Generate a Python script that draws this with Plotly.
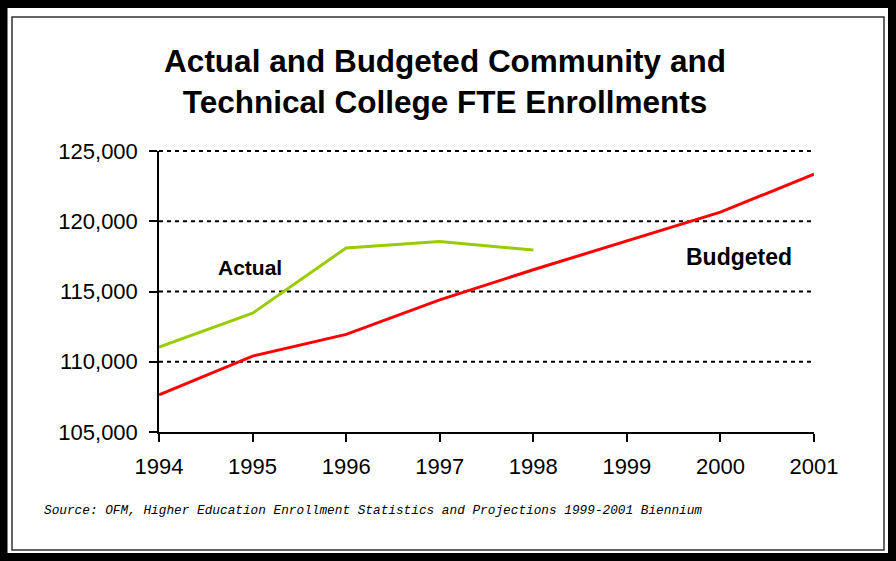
import plotly.graph_objects as go

years = [1994, 1995, 1996, 1997, 1998, 1999, 2000, 2001]
actual_years = [1994, 1995, 1996, 1997, 1998]
actual = [111050, 113450, 118100, 118550, 117950]
budgeted = [107650, 110400, 111950, 114400, 116550, 118600, 120650, 123350]
y_ticks = [105000, 110000, 115000, 120000, 125000]
y_tick_labels = ["105,000", "110,000", "115,000", "120,000", "125,000"]
grid_values = [110000, 115000, 120000, 125000]
y_range = [105000, 125000]

W, H = 896, 561
L, R, T, B = 159, 814, 151, 432


def px(x):
    return (x - L) / (R - L)


def py(y):
    return (B - y) / (B - T)


fig = go.Figure()
fig.add_trace(go.Scatter(x=actual_years, y=actual, mode="lines",
                         line=dict(color="#99CC00", width=3), name="Actual"))
fig.add_trace(go.Scatter(x=years, y=budgeted, mode="lines",
                         line=dict(color="#FF0000", width=3), name="Budgeted"))

font = "Liberation Sans, Arial, sans-serif"

fig.update_layout(
    width=W, height=H, autosize=False,
    margin=dict(l=L, r=W - R, t=T, b=H - B),
    paper_bgcolor="white", plot_bgcolor="white",
    showlegend=False,
    font=dict(family=font, color="black"),
    title=dict(text="<b>Actual and Budgeted Community and<br>Technical College FTE Enrollments</b>",
               x=445 / W, xanchor="center", y=1 - 72 / H, yanchor="middle",
               font=dict(size=31.5, family=font, color="black")),
)
fig.update_xaxes(range=[years[0], years[-1]], tickvals=years, ticktext=[str(y) for y in years],
                 showgrid=False, showline=True, linecolor="black", linewidth=1.5,
                 ticks="outside", ticklen=8, tickcolor="black", tickwidth=1.5,
                 ticklabelstandoff=6,
                 tickfont=dict(size=22, family=font, color="black"), zeroline=False)
fig.update_yaxes(range=y_range, tickvals=y_ticks, ticktext=y_tick_labels,
                 showgrid=False,
                 showline=True, linecolor="black", linewidth=1.5,
                 ticks="outside", ticklen=8, tickcolor="black", tickwidth=1.5,
                 ticklabelstandoff=7,
                 tickfont=dict(size=22, family=font, color="black"), zeroline=False)

for gv in grid_values:
    yp = (gv - y_range[0]) / (y_range[1] - y_range[0])
    fig.add_shape(type="line", xref="paper", yref="paper", x0=0, x1=1, y0=yp, y1=yp,
                  line=dict(color="black", width=2, dash="4px,4px"), layer="below")

fig.add_annotation(text="<b>Actual</b>", x=px(250), y=py(267), xref="paper", yref="paper",
                   xanchor="center", yanchor="middle",
                   showarrow=False, font=dict(size=21, family=font, color="black"))
fig.add_annotation(text="<b>Budgeted</b>", x=px(738.5), y=py(257), xref="paper", yref="paper",
                   xanchor="center", yanchor="middle",
                   showarrow=False, font=dict(size=23, family=font, color="black"))
fig.add_annotation(text="<i>Source: OFM, Higher Education Enrollment Statistics and Projections 1999-2001 Biennium</i>",
                   x=px(42), y=py(511), xref="paper", yref="paper", xanchor="left", yanchor="middle",
                   showarrow=False, font=dict(size=12.75, family="Liberation Mono, monospace", color="black"))

# frame
fig.add_shape(type="rect", xref="paper", yref="paper",
              x0=px(3.5), x1=px(892), y0=py(4), y1=py(557),
              line=dict(color="black", width=8), layer="above")
fig.add_shape(type="rect", xref="paper", yref="paper",
              x0=px(12), x1=px(884), y0=py(17), y1=py(550),
              line=dict(color="#333333", width=1.5), layer="above")

fig.write_html("out.html", config={"displayModeBar": False},
               post_script="document.body.style.margin='0';")
